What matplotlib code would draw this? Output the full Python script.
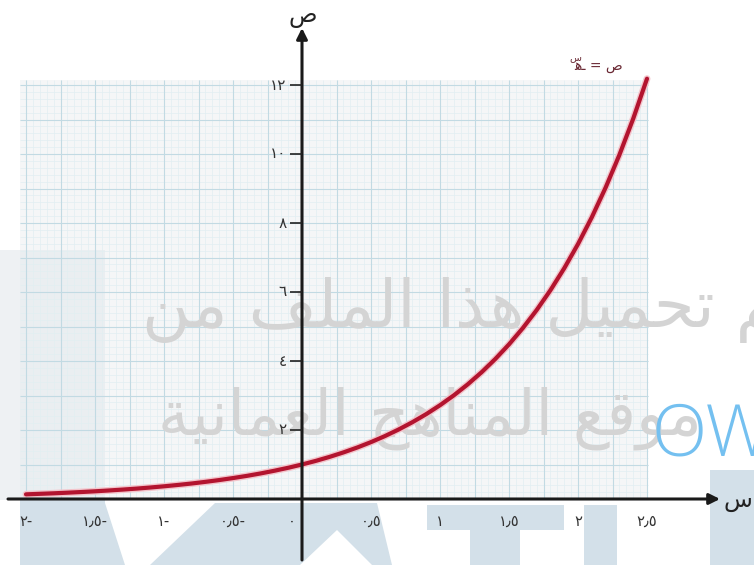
import numpy as np
import matplotlib.pyplot as plt
from matplotlib.patches import Rectangle, Polygon
from matplotlib.transforms import Affine2D
import matplotlib.patheffects as pe

# ---- chart data ----
X_TICKS = [-2, -1.5, -1, -0.5, 0, 0.5, 1, 1.5, 2, 2.5]
X_LABELS = ['٢-', '١٫٥-', '١-', '٠٫٥-', '٠', '٠٫٥', '١', '١٫٥', '٢', '٢٫٥']
Y_TICKS = [2, 4, 6, 8, 10, 12]
Y_LABELS = ['٢', '٤', '٦', '٨', '١٠', '١٢']

CURVE_X = np.round(np.arange(-2.0, 2.51, 0.1), 1)
CURVE_Y = [0.135, 0.150, 0.165, 0.183, 0.202, 0.223, 0.247, 0.273, 0.301, 0.333,
           0.368, 0.407, 0.449, 0.497, 0.549, 0.607, 0.670, 0.741, 0.819, 0.905,
           1.000, 1.105, 1.221, 1.350, 1.492, 1.649, 1.822, 2.014, 2.226, 2.460,
           2.718, 3.004, 3.320, 3.669, 4.055, 4.482, 4.953, 5.474, 6.050, 6.686,
           7.389, 8.166, 9.025, 9.974, 11.023, 12.182]

WM_LINE1 = 'تم تحميل هذا الملف من'
WM_LINE2 = 'موقع المناهج العمانية'

# ---- layout (pixels) ----
W, H = 754, 565
OX, OY = 302, 499          # where the origin sits
SX, SY = 138, 34.5         # pixels per unit
GRID_X0, GRID_X1, GRID_Y1 = -2.043, 2.507, 12.14

# arabic presentation forms: isolated, final, initial, medial
FORMS = {
    'ا': (0xFE8D, 0xFE8E), 'ة': (0xFE93, 0xFE94), 'ذ': (0xFEAB, 0xFEAC),
    'و': (0xFEED, 0xFEEE),
    'ت': (0xFE95, 0xFE96, 0xFE97, 0xFE98), 'ج': (0xFE9D, 0xFE9E, 0xFE9F, 0xFEA0),
    'ح': (0xFEA1, 0xFEA2, 0xFEA3, 0xFEA4), 'ع': (0xFEC9, 0xFECA, 0xFECB, 0xFECC),
    'ف': (0xFED1, 0xFED2, 0xFED3, 0xFED4), 'ق': (0xFED5, 0xFED6, 0xFED7, 0xFED8),
    'ل': (0xFEDD, 0xFEDE, 0xFEDF, 0xFEE0), 'م': (0xFEE1, 0xFEE2, 0xFEE3, 0xFEE4),
    'ن': (0xFEE5, 0xFEE6, 0xFEE7, 0xFEE8), 'ه': (0xFEE9, 0xFEEA, 0xFEEB, 0xFEEC),
    'ي': (0xFEF1, 0xFEF2, 0xFEF3, 0xFEF4),
}


def shape(s):
    """join arabic letters and flip to visual order (matplotlib does no shaping)"""
    out = []
    for i, ch in enumerate(s):
        f = FORMS.get(ch)
        if f is None:
            out.append(ch)
            continue
        prev = s[i - 1] if i > 0 else ''
        nxt = s[i + 1] if i + 1 < len(s) else ''
        jp = prev in FORMS and len(FORMS[prev]) == 4
        jn = len(f) == 4 and nxt in FORMS
        k = 3 if (jp and jn) else 1 if jp else 2 if jn else 0
        out.append(chr(f[k]))
    return ''.join(reversed(out))


fig = plt.figure(figsize=(W / 100, H / 100), dpi=100)
ax = fig.add_axes([0, 0, 1, 1])
ax.set_xlim(-OX / SX, (W - OX) / SX)
ax.set_ylim(-(H - OY) / SY, OY / SY)
ax.axis('off')

pix = Affine2D().scale(1 / W, -1 / H).translate(0, 1) + fig.transFigure

# faint block-letter watermark behind everything
BLUE = '#d3e0e9'
wm_blue = [
    [(20, 250), (105, 250), (105, 565), (20, 565)],
    [(105, 503), (377, 503), (392, 565), (105, 565)],
    [(427, 505), (564, 505), (564, 530), (520, 530), (520, 565), (470, 565), (470, 530), (427, 530)],
    [(584, 505), (617, 505), (617, 565), (584, 565)],
    [(710, 470), (754, 470), (754, 565), (710, 565)],
]
for v in wm_blue:
    ax.add_patch(Polygon(v, closed=True, transform=pix, fc=BLUE, ec='none', zorder=0))
for v in [[(105, 503), (215, 503), (150, 565), (125, 565)], [(300, 565), (337, 530), (372, 565)]]:
    ax.add_patch(Polygon(v, closed=True, transform=pix, fc='white', ec='none', zorder=0.5))
ax.add_patch(Polygon([(0, 250), (20, 250), (20, 500), (0, 500)], transform=pix,
                     fc='#eef1f3', ec='none', zorder=0))

# graph paper
ax.add_patch(Rectangle((GRID_X0, 0), GRID_X1 - GRID_X0, GRID_Y1, fc='#f2f4f5',
                       alpha=0.75, ec='none', zorder=1))
ax.vlines(np.arange(-2.0, 2.501, 0.05), 0, GRID_Y1, color='#e2eef2', lw=0.5, zorder=2)
ax.hlines(np.arange(0, GRID_Y1, 0.2), GRID_X0, GRID_X1, color='#e2eef2', lw=0.5, zorder=2)
ax.vlines(np.arange(-2.0, 2.501, 0.25), 0, GRID_Y1, color='#c2dae3', lw=0.8, zorder=2)
ax.hlines(np.arange(0, GRID_Y1, 1.0), GRID_X0, GRID_X1, color='#c2dae3', lw=0.8, zorder=2)

# grey text watermark
ax.text(142, 327, shape(WM_LINE1), transform=pix, fontsize=47.5, color='#d4d4d4',
        ha='left', va='baseline', zorder=3)
ax.text(158, 434, shape(WM_LINE2), transform=pix, fontsize=45, color='#d4d4d4',
        ha='left', va='baseline', zorder=3)

# the curve
ax.plot(CURVE_X, CURVE_Y, color='#b3142f', lw=3, solid_capstyle='round', zorder=5,
        path_effects=[pe.Stroke(linewidth=5, foreground='#f3c4cb'), pe.Normal()])

# axes with arrows
arrow = dict(arrowstyle='-|>', lw=2.2, color='#1a1a1a', shrinkA=0, shrinkB=0, mutation_scale=16)
ax.annotate('', xy=((720 - OX) / SX, 0), xytext=((8 - OX) / SX, 0), arrowprops=arrow, zorder=6)
ax.annotate('', xy=(0, (OY - 28) / SY), xytext=(0, (OY - 560) / SY), arrowprops=arrow, zorder=6)
ax.hlines(Y_TICKS, -12 / SX, 0, color='#222222', lw=1.2, zorder=6)

for y, lab in zip(Y_TICKS, Y_LABELS):
    ax.annotate(lab, (0, y), xytext=(-11, 0), textcoords='offset points', ha='right',
                va='center', fontsize=11, color='#333333', zorder=7)
for x, lab in zip(X_TICKS, X_LABELS):
    dx = -7 if x == 0 else 0
    ax.annotate(lab, (x, 0), xytext=(dx, -16), textcoords='offset points', ha='center',
                va='center', fontsize=10.5, color='#333333', zorder=7)

ax.text(303, 16, 'ص', transform=pix, ha='center', va='center', fontsize=17, color='#222222')
ax.text(738, 500, 'س', transform=pix, ha='center', va='center', fontsize=17, color='#222222')

# equation label  ص = هـ^س
ax.text(623, 66, chr(0xFEEB) + '\u0640 = ص', transform=pix, ha='right', va='center',
        fontsize=10, color='#6b2a35', zorder=7)
ax.text(575, 57, 'س', transform=pix, ha='center', va='center', fontsize=7,
        color='#6b2a35', zorder=7)

ax.text(651, 455, 'OW', transform=pix, fontsize=52, color='#74c0f0', family='Open Sans',
        weight='light', ha='left', va='baseline', zorder=8)

fig.savefig('out.png', dpi=100)
